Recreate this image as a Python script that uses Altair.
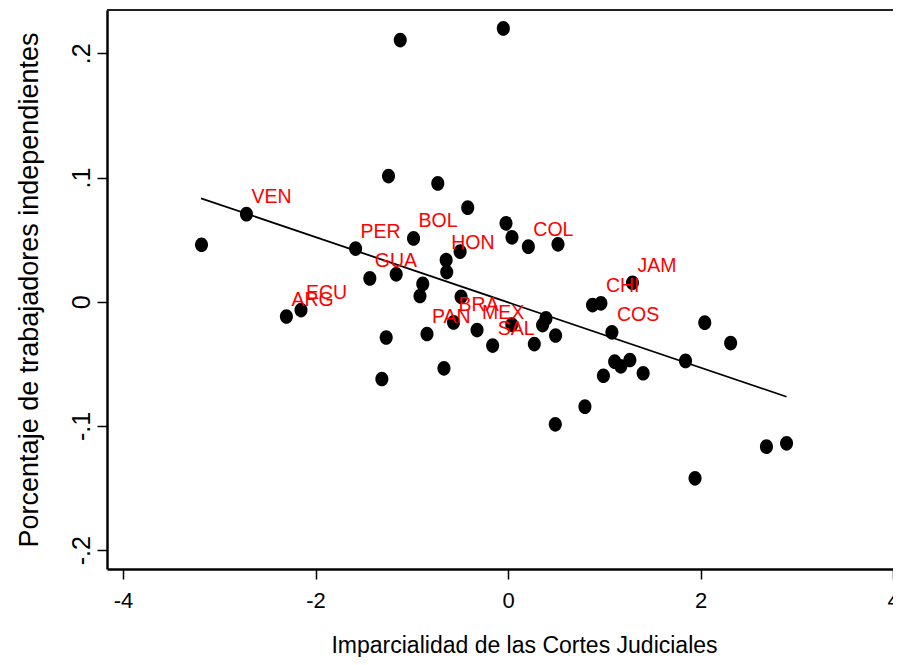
import altair as alt
import pandas as pd

# Scatter points
x_vals = [-3.185, -2.718, -2.303, -2.151, -1.584, -1.436, -1.162, -1.242, -1.120, -1.311,
          -1.266, -0.982, -0.886, -0.915, -0.842, -0.730, -0.666, -0.643, -0.637, -0.566,
          -0.488, -0.498, -0.419, -0.322, -0.160, -0.049, -0.021, 0.041, 0.039, 0.211,
          0.519, 0.273, 0.394, 0.359, 0.494, 0.491, 0.799, 0.878, 0.965, 1.293,
          1.079, 0.991, 1.108, 1.172, 1.266, 1.404, 1.844, 2.044, 2.313, 1.943,
          2.685, 2.894]
y_vals = [0.0459, 0.0705, -0.0119, -0.0067, 0.0428, 0.0188, 0.0221, 0.1012, 0.2107, -0.0622,
          -0.0288, 0.0510, 0.0143, 0.0046, -0.0260, 0.0953, -0.0536, 0.0336, 0.0239, -0.0167,
          0.0040, 0.0403, 0.0757, -0.0228, -0.0353, 0.2201, 0.0631, 0.0519, -0.0185, 0.0443,
          0.0462, -0.0341, -0.0134, -0.0188, -0.0272, -0.0987, -0.0845, -0.0027, -0.0013, 0.0153,
          -0.0246, -0.0596, -0.0483, -0.0520, -0.0469, -0.0576, -0.0477, -0.0169, -0.0333, -0.1422,
          -0.1167, -0.1140]
codes = ["", "VEN", "ARG", "ECU", "PER", "GUA", "", "", "", "",
         "", "BOL", "", "", "PAN", "", "", "HON", "", "BRA",
         "", "", "", "MEX", "SAL", "", "", "", "", "COL",
         "", "", "", "", "", "", "", "", "CHI", "JAM",
         "COS", "", "", "", "", "", "", "", "", "",
         "", ""]

# Fitted line end points
fit_x = [-3.19, 2.894]
fit_y = [0.0833, -0.0765]

x_ticks = [-4, -2, 0, 2, 4]
y_ticks = [-0.2, -0.1, 0, 0.1, 0.2]

df = pd.DataFrame({"x": x_vals, "y": y_vals, "code": codes})
fit = pd.DataFrame({"x": fit_x, "y": fit_y})
lab = df[df["code"] != ""]

FONT = "Liberation Sans"
W, H = 786, 559

xscale = alt.Scale(domain=[-4.167, 4.0], nice=False, zero=False)
yscale = alt.Scale(domain=[-0.2152, 0.2349], nice=False, zero=False)

xaxis = alt.Axis(values=x_ticks, title="Imparcialidad de las Cortes Judiciales",
                 grid=False, tickSize=10, tickColor="black", tickWidth=1.5,
                 domainColor="black", domainWidth=2.5,
                 labelFont=FONT, labelFontSize=22, labelColor="black",
                 labelBaseline="alphabetic", labelPadding=28, labelFlush=False,
                 labelExpr="'' + datum.value",
                 titleFont=FONT, titleFontSize=23, titleFontWeight="normal", titleColor="black",
                 titleX=417, titleY=83, titleBaseline="alphabetic", titleAlign="center")
yaxis = alt.Axis(values=y_ticks, title="Porcentaje de trabajadores independientes",
                 grid=False, tickSize=10, tickColor="black", tickWidth=1.5,
                 domainColor="black", domainWidth=2.5,
                 labelFont=FONT, labelFontSize=25, labelColor="black",
                 labelAngle=270, labelAlign="center", labelBaseline="alphabetic",
                 labelPadding=8, labelFlush=False,
                 labelExpr="replace('' + datum.value, '0.', '.')",
                 titleFont=FONT, titleFontSize=27, titleFontWeight="normal", titleColor="black",
                 titleAngle=270, titleX=-70, titleY=279.5, titleBaseline="alphabetic",
                 titleAlign="center")

ellipse = "M 0,-0.98 A 0.87,0.98 0 1 1 0,0.98 A 0.87,0.98 0 1 1 0,-0.98 Z"

top_line = alt.Chart(pd.DataFrame({"k": [0]})).mark_rule(color="#222222", strokeWidth=2).encode(
    x=alt.value(0), x2=alt.value(W), y=alt.value(0)
)

points = alt.Chart(df).mark_point(shape=ellipse, filled=True, color="black",
                                  opacity=1, size=225, strokeWidth=0).encode(
    x=alt.X("x:Q", scale=xscale, axis=xaxis),
    y=alt.Y("y:Q", scale=yscale, axis=yaxis),
)

line = alt.Chart(fit).mark_line(color="black", strokeWidth=1.8).encode(
    x=alt.X("x:Q", scale=xscale),
    y=alt.Y("y:Q", scale=yscale),
)

labels = alt.Chart(lab).mark_text(align="left", baseline="alphabetic", dx=5, dy=-11,
                                  font=FONT, fontSize=19.5, color="#ff0000").encode(
    x=alt.X("x:Q", scale=xscale),
    y=alt.Y("y:Q", scale=yscale),
    text="code:N",
)

chart = alt.layer(top_line, line, points, labels).properties(
    width=W, height=H,
    autosize=alt.AutoSizeParams(type="none"),
    padding={"left": 99, "top": 2, "right": 0, "bottom": 88},
    background="white",
).configure_view(stroke=None)

chart.save("out.html", embed_options={"renderer": "svg", "actions": False})
